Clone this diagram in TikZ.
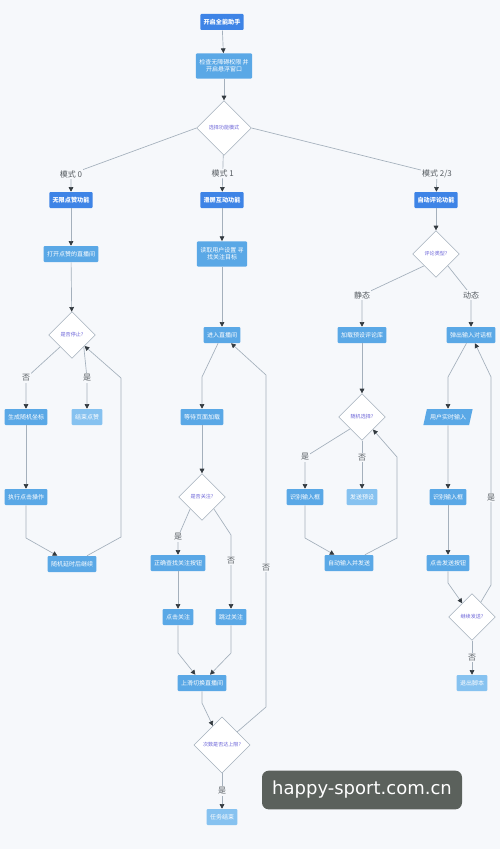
\documentclass[tikz,border=0pt]{standalone}
\usepackage{fontspec}
\setmainfont{Noto Sans CJK SC}
\newfontfamily\wmfont{DejaVu Sans}
\usetikzlibrary{arrows.meta,positioning,shapes.geometric}
\definecolor{headblue}{HTML}{3E84E6}
\definecolor{boxblue}{HTML}{5AA8E6}
\definecolor{endblue}{HTML}{86C2F0}
\definecolor{edgegray}{HTML}{A4B0BC}
\definecolor{tipgray}{HTML}{333A40}
\definecolor{choicetext}{HTML}{6A63D8}
\definecolor{labelgray}{HTML}{555B60}
\definecolor{bggray}{HTML}{F6F8FB}
\definecolor{wmgray}{HTML}{5B615C}

\begin{document}
\begin{tikzpicture}[x=0.75pt,y=-0.75pt,
 every node/.style={align=center,font=\fontsize{4.5}{5.5}\selectfont},
 box/.style={fill=boxblue,text=white,minimum height=12pt,inner xsep=2.5pt,inner ysep=1pt,rounded corners=0.8pt},
 mainbox/.style={box,fill=headblue,font=\bfseries\fontsize{4.6}{5.5}\selectfont},
 endbox/.style={box,fill=endblue},
 choice/.style={diamond,draw=edgegray,fill=white,text=choicetext,inner sep=0pt,minimum size=35pt,font=\fontsize{3.8}{4.5}\selectfont},
 io/.style={trapezium,trapezium left angle=70,trapezium right angle=110,trapezium stretches=true,
  fill=boxblue,text=white,minimum height=12pt,minimum width=37pt,inner xsep=0pt,inner ysep=1pt},
 lbl/.style={fill=bggray,inner sep=0.8pt,text=labelgray,font=\fontsize{6}{7}\selectfont},
 flow/.style={draw=edgegray,line width=0.5pt,-{Triangle[length=3.5pt,width=3.5pt,color=tipgray]}}]
\fill[bggray] (0,0) rectangle (500,849);
% start and mode choice
\node[mainbox] (start) at (222,22) {开启全能助手};
\node[box,minimum height=19pt] (perm) at (224,66) {检查无障碍权限 并\\开启悬浮窗口};
\node[choice,minimum size=41pt] (mode) at (224,128) {选择功能模式};
\node[mainbox] (like) at (71,200) {无限点赞功能};
\node[mainbox] (swipe) at (222,200) {滑屏互动功能};
\node[mainbox] (comment) at (436,200) {自动评论功能};
% mode 0
\node[box] (room) at (71,254) {打开点赞的直播间};
\node[choice] (stop) at (72,335) {是否停止?};
\node[box] (coord) at (26,417) {生成随机坐标};
\node[endbox] (likeend) at (87,417) {结束点赞};
\node[box] (tap) at (26,497) {执行点击操作};
\node[box] (delay) at (72,564) {随机延时后继续};
% mode 1
\node[box,minimum height=19pt] (cfg) at (222,254) {读取用户设置 寻\\找关注目标};
\node[box] (enter) at (222,335) {进入直播间};
\node[box] (wait) at (202,417) {等待页面加载};
\node[choice] (follow) at (202,497) {是否关注?};
\node[box] (findbtn) at (178,563) {正确查找关注按钮};
\node[box] (tapfollow) at (178,617) {点击关注};
\node[box] (skip) at (231,617) {跳过关注};
\node[box] (next) at (202,683) {上滑切换直播间};
\node[choice,minimum size=42pt] (limit) at (222,745) {次数是否达上限?};
\node[endbox] (done) at (222,817) {任务结束};
% mode 2/3
\node[choice] (kind) at (436,254) {评论类型?};
\node[box] (preset) at (362,335) {加载预设评论库};
\node[box] (dialog) at (471,335) {弹出输入对话框};
\node[choice] (random) at (362,417) {随机选择?};
\node[io] (typing) at (448,417) {用户实时输入};
\node[box] (field) at (305,497) {识别输入框};
\node[endbox] (fixed) at (362,497) {发送预设};
\node[box] (field2) at (448,497) {识别输入框};
\node[box] (autosend) at (349,563) {自动输入并发送};
\node[box] (sendbtn) at (448,563) {点击发送按钮};
\node[choice] (again) at (472,617) {继续发送?};
\node[endbox] (quit) at (472,683) {退出脚本};
\node[fill=wmgray,text=white,rounded corners=5pt,minimum width=150pt,minimum height=29pt,
 font=\wmfont\fontsize{13.5}{16}\selectfont] (mark) at (362,790) {happy-sport.com.cn};
% connectors
\draw[flow] (start) -- (perm);
\draw[flow] (perm) -- (mode);
\draw[flow] (mode.west) -- (71,174) node[lbl]{模式 0} -- (like);
\draw[flow] (mode) -- node[lbl]{模式 1} (swipe);
\draw[flow] (mode.east) -- (437,174) node[lbl]{模式 2/3} -- (comment);
\draw[flow] (like) -- (room);
\draw[flow] (room) -- (stop);
\draw[flow] (stop.south west) -- (26,378) node[lbl]{否} -- (coord);
\draw[flow] (stop.south east) -- (87,378) node[lbl]{是} -- (likeend);
\draw[flow] (coord) -- (tap);
\draw[flow] (tap) -- (26,538) -- (delay);
\draw[flow] (delay) -- (121,537) -- (121,378) -- (stop);
\draw[flow] (swipe) -- (cfg);
\draw[flow] (cfg) -- (enter);
\draw[flow] (enter) -- (202,377) -- (wait);
\draw[flow] (wait) -- (follow);
\draw[flow] (follow.south west) -- (178,537) node[lbl]{是} -- (findbtn);
\draw[flow] (follow.south east) -- (231,535) -- node[lbl,pos=.35]{否} (skip);
\draw[flow] (findbtn) -- (tapfollow);
\draw[flow] (tapfollow) -- (178,653) -- (next);
\draw[flow] (skip) -- (231,653) -- (next);
\draw[flow] (next) -- (202,703) -- (limit);
\draw[flow] (limit) -- node[lbl]{是} (done);
\draw[flow] (limit) -- (266,707) -- node[lbl,pos=.42]{否} (266,375) -- (enter);
\draw[flow] (comment) -- (kind);
\draw[flow] (kind.south west) -- (362,295) node[lbl]{静态} -- (preset);
\draw[flow] (kind.south east) -- (471,295) node[lbl]{动态} -- (dialog);
\draw[flow] (preset) -- (random);
\draw[flow] (random.south west) -- (305,457) node[lbl]{是} -- (field);
\draw[flow] (random) -- node[lbl,pos=.35]{否} (fixed);
\draw[flow] (field) -- (305,538) -- (autosend);
\draw[flow] (autosend) -- (397,538) -- (397,457) -- (random);
\draw[flow] (dialog) -- (448,377) -- (typing);
\draw[flow] (typing) -- (field2);
\draw[flow] (field2) -- (sendbtn);
\draw[flow] (sendbtn) -- (448,583) -- (again);
\draw[flow] (again) -- node[lbl]{否} (quit);
\draw[flow] (again) -- (491,585) -- node[lbl,pos=.42]{是} (491,377) -- (dialog);
\end{tikzpicture}
\end{document}
